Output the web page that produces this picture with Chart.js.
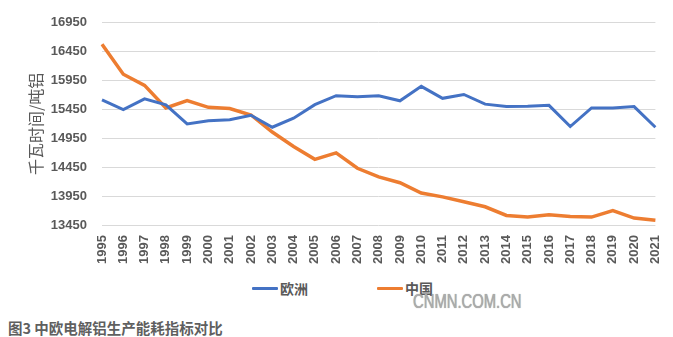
<!DOCTYPE html>
<html>
<head>
<meta charset="utf-8">
<script src="https://cdn.jsdelivr.net/npm/chart.js@4/dist/chart.umd.min.js"></script>
<style>
  html, body { margin: 0; padding: 0; background: #fff; }
  #wrap { position: relative; width: 673px; height: 337px; overflow: hidden; }
  #energyChart { position: absolute; left: 0; top: 0; }
  .legend-item { position: absolute; top: 279px; height: 18px; font: bold 14px "Noto Sans CJK SC", sans-serif; color: #595959; line-height: 18px; }
  .legend-item .swatch { position: absolute; left: 0; top: 8px; width: 26px; height: 3px; border-radius: 1px; }
  .legend-item span.txt { position: absolute; left: 28px; top: 0; white-space: nowrap; }
  #caption { position: absolute; left: 8px; top: 318px; font: bold 14.5px "Noto Sans CJK SC", sans-serif; color: #5f5f5f; white-space: nowrap; line-height: 20px; }
  #watermark { position: absolute; left: 413px; top: 289px; font: 20px "Liberation Sans", Arial, sans-serif; color: #acacac; transform: scaleX(0.74); transform-origin: left top; white-space: nowrap; line-height: 24px; text-shadow: 0 0 1px #888; }
</style>
</head>
<body>
<div id="wrap">
  <canvas id="energyChart" width="673" height="266"></canvas>
  <div class="legend-item" style="left:252px"><div class="swatch" style="background:#4472C4"></div><span class="txt">欧洲</span></div>
  <div class="legend-item" style="left:377px"><div class="swatch" style="background:#ED7D31"></div><span class="txt">中国</span></div>
  <div id="watermark">CNMN.COM.CN</div>
  <div id="caption">图3 中欧电解铝生产能耗指标对比</div>
</div>
<script>
const years = ['1995', '1996', '1997', '1998', '1999', '2000', '2001', '2002', '2003', '2004',
    '2005', '2006', '2007', '2008', '2009', '2010', '2011', '2012', '2013', '2014',
    '2015', '2016', '2017', '2018', '2019', '2020', '2021'];

const europe = [15617, 15450, 15633, 15530, 15200, 15255, 15272, 15350, 15143, 15300,
    15533, 15688, 15672, 15688, 15600, 15850, 15643, 15710, 15543, 15500,
    15505, 15522, 15155, 15477, 15477, 15500, 15143];

const china = [16577, 16060, 15867, 15477, 15605, 15488, 15467, 15355, 15060, 14810,
    14588, 14700, 14433, 14283, 14183, 14005, 13938, 13855, 13767, 13617,
    13588, 13627, 13600, 13588, 13700, 13572, 13533];

const yTicks = [13450, 13950, 14450, 14950, 15450, 15950, 16450, 16950];

const tickColor = '#595959';

const config = {
    type: 'line',
    data: {
        labels: years,
        datasets: [
            {
                label: '欧洲',
                data: europe,
                borderColor: '#4472C4',
                backgroundColor: '#4472C4',
                borderWidth: 3,
                pointRadius: 0,
                tension: 0,
            },
            {
                label: '中国',
                data: china,
                borderColor: '#ED7D31',
                backgroundColor: '#ED7D31',
                borderWidth: 3.5,
                pointRadius: 0,
                tension: 0,
            }
        ]
    },
    options: {
        responsive: false,
        animation: false,
        layout: {
            padding: { left: 0, right: 7, top: 4, bottom: 0 }
        },
        plugins: {
            legend: { display: false },
            tooltip: { enabled: false },
        },
        scales: {
            x: {
                grid: { display: false },
                border: { display: false },
                ticks: {
                    color: tickColor,
                    font: { family: '"Liberation Sans", Arial, sans-serif', size: 13, weight: 'bold' },
                    minRotation: 90,
                    maxRotation: 90,
                    autoSkip: false,
                    padding: 2,
                },
            },
            y: {
                min: yTicks[0],
                max: yTicks[yTicks.length - 1],
                afterBuildTicks: (scale) => {
                    scale.ticks = yTicks.map(v => ({ value: v }));
                },
                afterFit: (scale) => {
                    scale.width = 102;  // match plot area left edge
                },
                grid: { color: '#d9d9d9', lineWidth: 1, drawTicks: false },
                border: { display: false },
                ticks: {
                    color: tickColor,
                    font: { family: '"Liberation Sans", Arial, sans-serif', size: 13, weight: 'bold' },
                    padding: 15,
                    callback: (value) => String(value),  // no thousands separator
                },
                title: {
                    display: true,
                    text: '千瓦时间/吨铝',
                    color: tickColor,
                    font: { family: '"Noto Sans CJK SC", sans-serif', size: 16 },
                    padding: { top: 26, bottom: 0 },
                }
            }
        }
    }
};

const energyChart = new Chart(document.getElementById('energyChart'), config);
</script>
</body>
</html>
